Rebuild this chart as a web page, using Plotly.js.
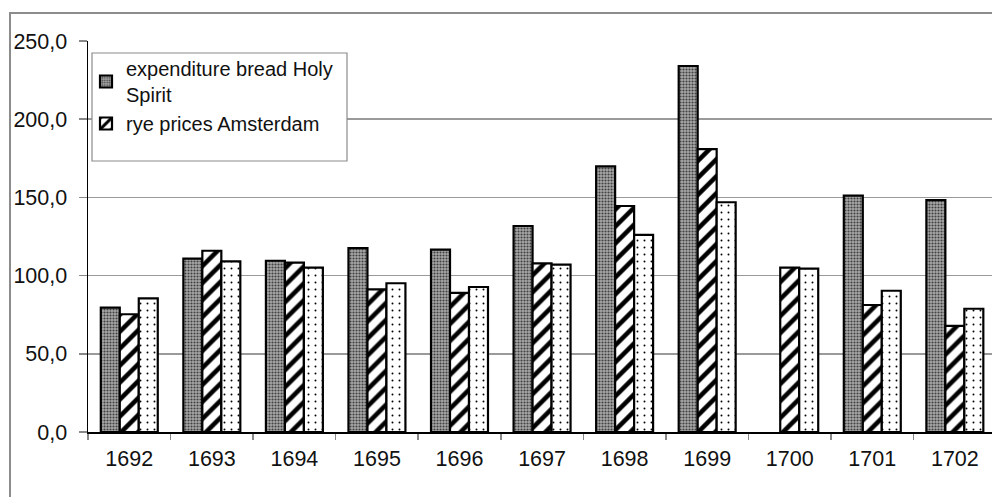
<!DOCTYPE html>
<html>
<head>
<meta charset="utf-8">
<script src="https://cdn.plot.ly/plotly-3.0.1.min.js"></script>
<style>
  html, body { margin:0; padding:0; background:#fff; overflow:hidden; }
  #frame { position:absolute; left:9px; top:12px; width:2000px; height:2000px; border:2px solid #8c8c8c; }
  #chart { position:absolute; left:0; top:0; width:992px; height:497px; }
</style>
</head>
<body>
<div id="frame"></div>
<div id="chart"></div>
<script>
const years = ['1692','1693','1694','1695','1696','1697','1698','1699','1700','1701','1702'];
const expenditureBread = [79.5, 110.8, 109.5, 117.6, 116.6, 131.7, 169.9, 234.0, null, 151.1, 148.3];
const ryePrices = [75.3, 115.9, 108.3, 91.2, 88.9, 107.8, 144.5, 180.9, 105.1, 81.2, 67.8];
const thirdSeries = [85.5, 109.1, 105.1, 95.1, 92.7, 107.0, 126.0, 146.9, 104.4, 90.3, 78.8];
const yTicks = [0, 50, 100, 150, 200, 250];
const yTickText = ['0,0', '50,0', '100,0', '150,0', '200,0', '250,0'];

const outline = { color: '#000', width: 2.2 };
const traces = [
  {
    type: 'bar', x: years, y: expenditureBread, name: 'expenditure bread Holy<br>Spirit',
    marker: { color: '#8a8a8a', line: outline,
      pattern: { shape: '.', bgcolor: '#a8a8a8', fgcolor: '#404040', size: 3, solidity: 0.4, fillmode: 'replace' } }
  },
  {
    type: 'bar', x: years, y: ryePrices, name: 'rye prices Amsterdam',
    marker: { color: '#ffffff', line: outline,
      pattern: { shape: '/', bgcolor: '#ffffff', fgcolor: '#000000', size: 12, solidity: 0.38, fillmode: 'replace' } }
  },
  {
    type: 'bar', x: years, y: thirdSeries, name: 'third series', showlegend: false,
    marker: { color: '#ffffff', line: outline,
      pattern: { shape: '.', bgcolor: '#ffffff', fgcolor: '#000000', size: 7, solidity: 0.06, fillmode: 'replace' } }
  }
];

const L = 88, T = 41, W = 992, H = 497, B = 432;
const px = v => (v - L) / (W - L);
const py = v => (B - v) / (B - T);

const layout = {
  width: W, height: H,
  margin: { l: L, r: 0, t: T, b: H - B, pad: 0 },
  paper_bgcolor: 'rgba(0,0,0,0)',
  plot_bgcolor: 'rgba(0,0,0,0)',
  font: { family: 'Liberation Sans, Arial, sans-serif', size: 21, color: '#111' },
  barmode: 'group', bargap: 0.31, bargroupgap: 0,
  showlegend: true,
  legend: {
    x: px(86), y: py(49), xanchor: 'left', yanchor: 'top',
    bgcolor: 'rgba(0,0,0,0)', borderwidth: 0,
    font: { size: 20, color: '#111' }, tracegroupgap: 0, itemclick: false
  },
  xaxis: {
    type: 'category', range: [-0.5, 10.45],
    showline: true, linecolor: '#000', linewidth: 1.5,
    ticks: 'outside', tickson: 'boundaries', ticklen: 6, tickcolor: '#888', tickwidth: 1.5,
    showgrid: false, zeroline: false, ticklabelstandoff: 7,
    tickfont: { size: 21.5, color: '#111' }
  },
  yaxis: {
    range: [0, 250], tickvals: yTicks, ticktext: yTickText,
    showline: true, linecolor: '#000', linewidth: 1.5,
    ticks: 'outside', ticklen: 8, tickcolor: '#888', tickwidth: 1.5,
    showgrid: true, gridcolor: '#9a9a9a', gridwidth: 1.5, zeroline: false,
    ticklabelstandoff: 7, tickfont: { size: 21.5, color: '#111' }
  },
  shapes: [
    { type: 'rect', xref: 'paper', yref: 'paper', x0: px(92), x1: px(347), y0: py(161), y1: py(53),
      line: { color: '#8c8c8c', width: 1.2 }, fillcolor: '#ffffff', layer: 'above' }
  ]
};

Plotly.newPlot('chart', traces, layout, { staticPlot: true, displayModeBar: false });
</script>
</body>
</html>
